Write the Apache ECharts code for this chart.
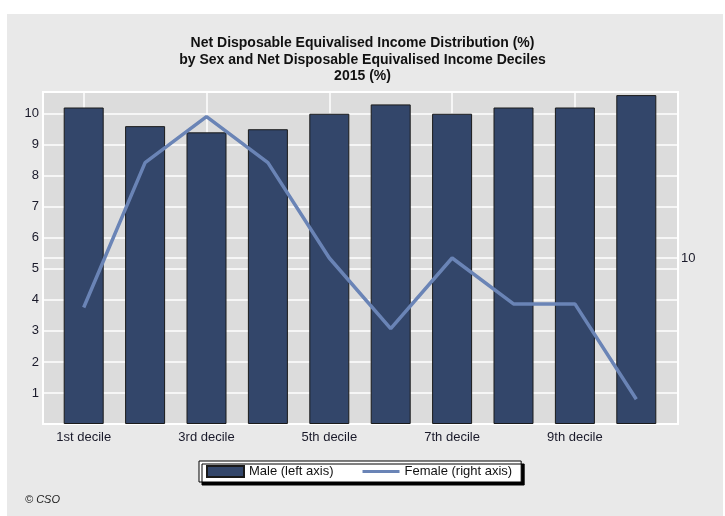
<!DOCTYPE html>
<html>
<head>
<meta charset="utf-8">
<script src="https://cdn.jsdelivr.net/npm/echarts@6/dist/echarts.min.js"></script>
<style>
  html, body { margin: 0; padding: 0; background: #ffffff; }
  #chart { width: 725px; height: 516px; }
</style>
</head>
<body>
<div id="chart"></div>
<script>
// ---- data ----
const titleLines = [
  'Net Disposable Equivalised Income Distribution (%)',
  'by Sex and Net Disposable Equivalised Income Deciles',
  '2015 (%)'
];
const categories = ['1st decile', '2nd decile', '3rd decile', '4th decile', '5th decile',
                    '6th decile', '7th decile', '8th decile', '9th decile', '10th decile'];
const maleValues = [10.2, 9.6, 9.4, 9.5, 10.0, 10.3, 10.0, 10.2, 10.2, 10.6];
const femaleValues = [9.86, 10.27, 10.40, 10.27, 10.0, 9.80, 10.0, 9.87, 9.87, 9.60];
const leftTicks = [1, 2, 3, 4, 5, 6, 7, 8, 9, 10];
const rightTicks = [10];
const seriesNames = ['Male (left axis)', 'Female (right axis)'];
const sourceNote = '\u00A9 CSO';

// ---- chart ----
const chart = echarts.init(document.getElementById('chart'), null, { renderer: 'canvas' });

const labelFont = 'Arial, "Liberation Sans", sans-serif';
const PLOT = { left: 43, right: 725 - 678, top: 92, bottom: 516 - 424 };
const INNER = { left: 53, right: 725 - 667, top: 92, bottom: 516 - 424 };
const leftMax = 10.7;
const rightMin = 9.53, rightMax = 10.47;
// hidden value axis on the background grid mapping category index (1..10) to pixels
const bandPx = (725 - INNER.left - INNER.right) / categories.length;
const xMin = 1 - ((INNER.left + bandPx / 2) - PLOT.left) / bandPx;
const xMax = categories.length + ((725 - PLOT.right) - (725 - INNER.right - bandPx / 2)) / bandPx;
const oddPositions = categories.map((c, i) => i + 1).filter((v, i) => i % 2 === 0);

const option = {
  backgroundColor: '#ffffff',
  animation: false,
  graphic: [{
    type: 'rect', z: -10, silent: true,
    shape: { x: 7, y: 14, width: 716, height: 510 },
    style: { fill: '#e9e9e9' }
  }, {
    type: 'text', left: 25, top: 494,
    style: { text: sourceNote, font: 'italic 11px Arial, "Liberation Sans", sans-serif', fill: '#222' }
  }],
  title: {
    text: titleLines.join('\n'),
    left: 'center',
    top: 30,
    textStyle: {
      fontFamily: '"Liberation Sans Narrow", "Arial Narrow", "Liberation Sans", sans-serif',
      fontWeight: 'bold', fontSize: 14, lineHeight: 16.5, color: '#111'
    }
  },
  legend: {
    data: [
      { name: seriesNames[0], icon: 'rect' },
      { name: seriesNames[1], icon: 'path://M0,0 M0,4 L38,4 L38,7 L0,7 Z M38,11' }
    ],
    left: 199, top: 461,
    padding: [4, 9, 4, 7],
    itemWidth: 37, itemHeight: 11, itemGap: 29,
    backgroundColor: '#ffffff',
    borderColor: '#000', borderWidth: 1,
    shadowColor: '#000', shadowBlur: 0, shadowOffsetX: 3, shadowOffsetY: 3,
    textStyle: { fontFamily: labelFont, fontSize: 13, color: '#111' }
  },
  grid: [
    { left: PLOT.left, right: PLOT.right, top: PLOT.top, bottom: PLOT.bottom, show: true,
      backgroundColor: '#dcdcdc', borderColor: '#ffffff', borderWidth: 2, containLabel: false },
    { left: INNER.left, right: INNER.right, top: INNER.top, bottom: INNER.bottom, containLabel: false }
  ],
  xAxis: [
    { gridIndex: 0, type: 'value', min: xMin, max: xMax,
      axisLine: { show: false }, axisLabel: { show: false },
      axisTick: { show: false, customValues: oddPositions },
      splitLine: { show: true, lineStyle: { color: '#ffffff', width: 1.5 } } },
    { gridIndex: 1, type: 'category', data: categories, boundaryGap: true,
      axisLine: { show: false }, axisTick: { show: false },
      splitLine: { show: false },
      axisLabel: { interval: 1, margin: 7, fontFamily: labelFont, fontSize: 13, color: '#1a1a2a' } }
  ],
  yAxis: [
    { gridIndex: 0, type: 'value', min: 0, max: leftMax, interval: 1, position: 'left',
      axisLine: { show: false }, axisTick: { show: false },
      axisLabel: { showMinLabel: false, showMaxLabel: false, margin: 4, fontFamily: labelFont, fontSize: 13, color: '#1a1a2a',
        formatter: v => leftTicks.includes(v) ? String(v) : '' },
      splitLine: { show: true, lineStyle: { color: '#ffffff', width: 1.5 } } },
    { gridIndex: 0, type: 'value', min: rightMin, max: rightMax, position: 'right',
      axisLine: { show: false },
      axisTick: { show: false, customValues: rightTicks },
      axisLabel: { customValues: rightTicks, margin: 3, fontFamily: labelFont, fontSize: 13, color: '#1a1a2a' },
      splitLine: { show: true, lineStyle: { color: '#ffffff', width: 1.5 } } },
    { gridIndex: 1, type: 'value', min: 0, max: leftMax, show: false },
    { gridIndex: 1, type: 'value', min: rightMin, max: rightMax, show: false }
  ],
  series: [
    { name: seriesNames[0], type: 'bar', xAxisIndex: 1, yAxisIndex: 2,
      data: maleValues, barWidth: 40,
      itemStyle: { color: '#33466a', borderColor: '#1a1a1a', borderWidth: 1 } },
    { name: seriesNames[1], type: 'line', xAxisIndex: 1, yAxisIndex: 3,
      data: femaleValues, symbol: 'none', z: 3,
      lineStyle: { color: '#6a84b6', width: 3.5 },
      itemStyle: { color: '#6a84b6' } }
  ]
};
chart.setOption(option);
</script>
</body>
</html>
